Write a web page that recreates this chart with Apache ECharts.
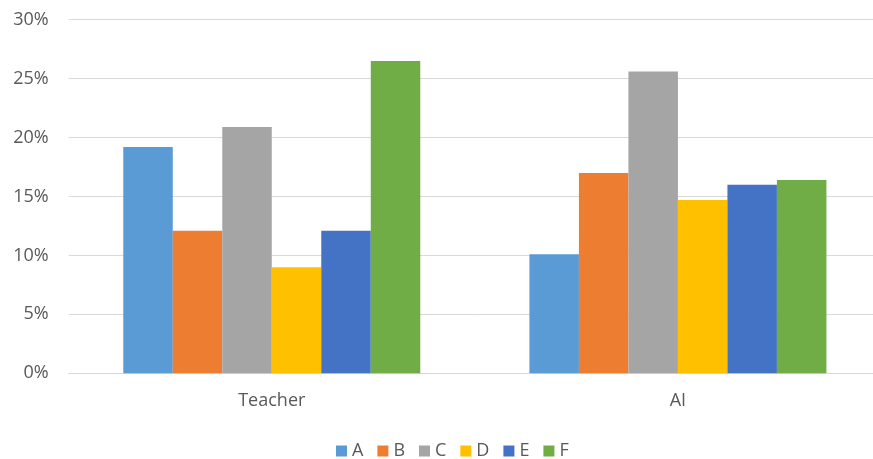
<!DOCTYPE html>
<html>
<head>
<meta charset="utf-8">
<script src="https://cdn.jsdelivr.net/npm/echarts@6/dist/echarts.min.js"></script>
<style>
html,body{margin:0;padding:0;background:#fff;overflow:hidden;width:873px;height:459px;}
#chart{width:881px;height:459px;}
</style>
</head>
<body>
<div id="chart"></div>
<script>
const categories = ['Teacher', 'AI'];
const seriesNames = ['A', 'B', 'C', 'D', 'E', 'F'];
const valuesA = [19.2, 10.1];
const valuesB = [12.1, 17.0];
const valuesC = [20.9, 25.6];
const valuesD = [9.0, 14.7];
const valuesE = [12.1, 16.0];
const valuesF = [26.5, 16.4];
const yTicks = [0, 5, 10, 15, 20, 25, 30];

const allValues = [valuesA, valuesB, valuesC, valuesD, valuesE, valuesF];
const colors = ['#5B9BD5', '#ED7D31', '#A5A5A5', '#FFC000', '#4472C4', '#70AD47'];
const font = '"Open Sans", sans-serif';

const chart = echarts.init(document.getElementById('chart'), null, {renderer: 'canvas'});
chart.setOption({
  animation: false,
  backgroundColor: '#ffffff',
  color: colors,
  grid: {left: 68.7, right: 0, top: 19.7, bottom: 85.7, containLabel: false},
  legend: {
    data: seriesNames,
    left: 331,
    top: 437,
    itemWidth: 11,
    itemHeight: 11,
    itemGap: 14,
    icon: 'rect',
    textStyle: {fontFamily: font, fontSize: 18, color: '#595959'}
  },
  xAxis: {
    type: 'category',
    data: categories,
    axisLine: {show: true, lineStyle: {color: '#D9D9D9', width: 1}},
    axisTick: {show: false},
    axisLabel: {fontFamily: font, fontSize: 18, color: '#595959', margin: 19}
  },
  yAxis: {
    type: 'value',
    min: yTicks[0],
    max: yTicks[yTicks.length - 1],
    interval: yTicks[1] - yTicks[0],
    axisLine: {show: false},
    axisTick: {show: false},
    splitLine: {lineStyle: {color: '#D9D9D9', width: 1}},
    axisLabel: {fontFamily: font, fontSize: 18, color: '#595959', margin: 20, formatter: '{value}%'}
  },
  series: seriesNames.map((name, i) => ({
    name: name,
    type: 'bar',
    data: allValues[i],
    barWidth: 49.5,
    barGap: '0%',
    itemStyle: {color: colors[i]}
  }))
});
</script>
</body>
</html>
